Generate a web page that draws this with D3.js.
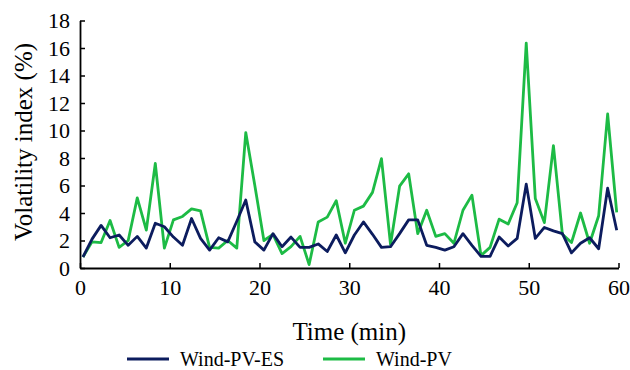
<!DOCTYPE html>
<html>
<head>
<meta charset="utf-8">
<script src="https://cdn.jsdelivr.net/npm/d3@7"></script>
<style>
  body { margin: 0; background: #fff; }
  svg text { font-family: "Liberation Serif", "Times New Roman", Times, serif; fill: #000; }
</style>
</head>
<body>
<div id="chart"></div>
<script>
// sample times (min)
const times = [0.33, 1.34, 2.35, 3.35, 4.36, 5.37, 6.38, 7.39, 8.39, 9.40,
    10.41, 11.42, 12.43, 13.43, 14.44, 15.45, 16.46, 17.47, 18.47, 19.48,
    20.49, 21.50, 22.51, 23.51, 24.52, 25.53, 26.54, 27.55, 28.55, 29.56,
    30.57, 31.58, 32.59, 33.59, 34.60, 35.61, 36.62, 37.63, 38.63, 39.64,
    40.65, 41.66, 42.67, 43.67, 44.68, 45.69, 46.70, 47.71, 48.71, 49.72,
    50.73, 51.74, 52.75, 53.75, 54.76, 55.77, 56.78, 57.79, 58.79, 59.80];

// Wind-PV-ES volatility index (%)
const windPvEs = [0.8, 2.1, 3.1, 2.2, 2.4, 1.65, 2.3, 1.45, 3.25, 3.0,
    2.25, 1.65, 3.6, 2.15, 1.3, 2.2, 1.9, 3.4, 4.95, 1.9,
    1.3, 2.5, 1.55, 2.25, 1.5, 1.5, 1.75, 1.2, 2.4, 1.1,
    2.4, 3.35, 2.45, 1.5, 1.55, 2.5, 3.5, 3.5, 1.65, 1.5,
    1.3, 1.55, 2.5, 1.65, 0.85, 0.85, 2.25, 1.6, 2.15, 6.1,
    2.15, 2.95, 2.7, 2.5, 1.1, 1.8, 2.2, 1.4, 5.8, 2.75];

// Wind-PV volatility index (%)
const windPv = [0.8, 1.9, 1.85, 3.45, 1.5, 2.0, 5.1, 2.75, 7.6, 1.45,
    3.5, 3.75, 4.3, 4.15, 1.5, 1.45, 2.0, 1.45, 9.85, 6.0,
    2.0, 2.45, 1.05, 1.55, 2.3, 0.25, 3.35, 3.7, 4.9, 1.8,
    4.2, 4.5, 5.5, 7.95, 1.7, 5.95, 6.85, 2.5, 4.2, 2.3,
    2.5, 1.8, 4.2, 5.3, 0.9, 1.5, 3.55, 3.2, 4.75, 16.35,
    5.05, 3.3, 8.9, 2.45, 1.85, 4.0, 1.8, 3.8, 11.2, 4.05];

const xTicks = [0, 10, 20, 30, 40, 50, 60];
const yTicks = [0, 2, 4, 6, 8, 10, 12, 14, 16, 18];

const seriesList = [
    { name: "Wind-PV-ES", values: windPvEs, color: "#0c1c5e" },
    { name: "Wind-PV", values: windPv, color: "#1dbb45" }
];

const WIDTH = 630, HEIGHT = 370;
const MARGIN = { LEFT: 80, RIGHT: 11.5, TOP: 20.5, BOTTOM: 102 };
const FONT = "'Liberation Serif', 'Times New Roman', Times, serif";

const svg = d3.select("#chart").append("svg")
    .attr("width", WIDTH)
    .attr("height", HEIGHT)
    .attr("font-family", FONT);

const x = d3.scaleLinear()
    .domain([0, 60])
    .range([MARGIN.LEFT, WIDTH - MARGIN.RIGHT]);

const y = d3.scaleLinear()
    .domain([0, 18])
    .range([HEIGHT - MARGIN.BOTTOM, MARGIN.TOP]);

// X axis (ticks point inward)
const xAxis = svg.append("g")
    .attr("transform", `translate(0, ${y(0)})`)
    .call(d3.axisBottom(x).tickValues(xTicks).tickSizeInner(-5).tickSizeOuter(0).tickPadding(10));

// Y axis
const yAxis = svg.append("g")
    .attr("transform", `translate(${x(0)}, 0)`)
    .call(d3.axisLeft(y).tickValues(yTicks).tickSizeInner(-5).tickSizeOuter(0).tickPadding(10));

[xAxis, yAxis].forEach(g => {
    g.attr("font-family", FONT).attr("font-size", 22);
    g.select(".domain").attr("stroke", "#000").attr("stroke-width", 1.8);
    g.selectAll(".tick line").attr("stroke", "#000").attr("stroke-width", 1.5);
    g.selectAll(".tick text").attr("fill", "#000");
});
xAxis.selectAll(".tick text").attr("dy", "0.75em");

// Lines
const line = d3.line()
    .x((d, i) => x(times[i]))
    .y(d => y(d));

seriesList.slice().reverse().forEach(s => {
    svg.append("path")
        .datum(s.values)
        .attr("fill", "none")
        .attr("stroke", s.color)
        .attr("stroke-width", 2.8)
        .attr("stroke-linejoin", "round")
        .attr("d", line);
});

// Axis titles
svg.append("text")
    .attr("text-anchor", "middle")
    .attr("x", (x(0) + x(60)) / 2)
    .attr("y", 340)
    .attr("font-size", 25)
    .text("Time (min)");

svg.append("text")
    .attr("text-anchor", "middle")
    .attr("transform", "rotate(-90)")
    .attr("x", -142)
    .attr("y", 32)
    .attr("font-size", 25)
    .text("Volatility index (%)");

// Legend
const legendX = [127, 323];
seriesList.forEach((s, i) => {
    const g = svg.append("g").attr("transform", `translate(${legendX[i]}, 359)`);
    g.append("line")
        .attr("x1", 0).attr("x2", 42)
        .attr("stroke", s.color)
        .attr("stroke-width", 2.8);
    g.append("text")
        .attr("x", 53)
        .attr("y", 7)
        .attr("font-size", 20)
        .text(s.name);
});
</script>
</body>
</html>
